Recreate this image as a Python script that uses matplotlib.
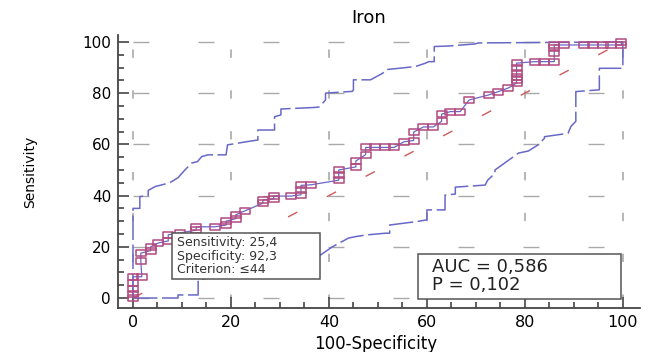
import numpy as np
import matplotlib
matplotlib.use("Agg")
import matplotlib.pyplot as plt
from matplotlib.path import Path
from matplotlib.patches import Rectangle

# ROC points (100-Specificity, Sensitivity)
roc_x = [0, 0, 0, 0, 0, 1.8, 1.6, 1.6, 3.6, 3.6, 5.2, 7.2, 7.2, 9.5, 12.9, 12.9,
         16.7, 19, 19, 21, 21, 22.8, 26.5, 26.5, 28.7, 28.7, 32.2, 34.3, 34.3,
         34.3, 36.3, 42, 42, 42, 45.5, 45.5, 47.5, 47.5, 49.5, 51.5, 53.3, 55.3,
         57.3, 57.3, 59.3, 61.3, 63, 63, 64.8, 66.8, 68.6, 72.6, 74.6, 76.6,
         78.3, 78.3, 78.3, 78.3, 78.3, 78.3, 82, 84, 86, 86, 86, 86, 88, 92, 94,
         96, 97.6, 99.7, 99.7]
roc_y = [0, 1.5, 3.5, 6, 8.3, 8.3, 14.5, 17.5, 18.5, 20, 21.5, 22.3, 24.7, 25.4,
         26.5, 27.8, 27.8, 28.5, 30, 31, 32.5, 34, 37, 38.3, 38.7, 39.8, 39.8,
         40.3, 42.2, 44, 44.2, 46, 48, 50, 51.2, 53.5, 56, 58.8, 58.8, 58.8,
         58.8, 61, 61.5, 64.8, 66.8, 66.8, 69, 71.8, 72.8, 72.8, 77.3, 79.3,
         80.6, 82, 83.9, 85.2, 86.4, 87.8, 89.7, 91.7, 92.3, 92.3, 92.3, 95.6,
         97.5, 98.8, 98.8, 98.8, 98.8, 98.8, 98.8, 98.8, 100]

# upper 95% confidence bound
upper_x = [0, 0, 1.4, 1.4, 3.1, 3.1, 4.5, 7.5, 9.2, 10.6, 12, 13.2, 14, 15.3, 19,
           19.3, 23.4, 25.5, 25.5, 28.9, 28.9, 30.2, 30.2, 37, 38, 39.3, 39.3,
           44.8, 45, 45, 48.5, 51, 51.7, 54.3, 57.7, 59.7, 60.4, 61.5, 61.5,
           64.4, 69.8, 70.5, 100]
upper_y = [0, 35, 35, 39.6, 40, 42, 43.5, 45, 47, 50, 52.7, 53.3, 55.2, 55.9,
           55.9, 59.8, 61.1, 61.7, 65.6, 65.6, 70.8, 71.5, 73.8, 74.4, 74.6,
           77.3, 80, 80.7, 81.3, 85.2, 85.2, 87.8, 89.2, 89.7, 90.4, 91.7, 92.3,
           92.3, 98.2, 98.4, 99.2, 99.6, 100]

# lower 95% confidence bound
lower_x = [0, 9.2, 9.2, 13.3, 13.3, 16, 20, 25, 30, 35, 38.3, 40.7, 44, 45.5,
           47.5, 51.5, 52.4, 52.4, 57.7, 60, 60, 63.7, 63.7, 65.8, 65.8, 71.9,
           72.4, 73.9, 73.9, 78.7, 80.7, 82.7, 84, 84, 88.8, 89.4, 90.4, 90.4,
           95.2, 95.2, 100, 100]
lower_y = [0, 0, 1.2, 1.2, 7, 8, 9, 11, 12.5, 14, 16.8, 20, 23.4, 24, 24.6,
           25.3, 25.3, 28.5, 29.8, 30.5, 34.4, 34.4, 40.2, 40.6, 43.3, 44.1, 46,
           48.7, 50, 56.6, 57.4, 59.8, 62.4, 63, 64.3, 67, 69, 80.6, 81.3, 89.7,
           89.7, 100]

diag = [0, 100]
ticks = [0, 20, 40, 60, 80, 100]

criterion_text = "Sensitivity: 25,4\nSpecificity: 92,3\nCriterion: \u226444"
auc_text = "AUC = 0,586\nP = 0,102"

blue = "#6868c8"
pink = "#b24a80"
red = "#cc5a5a"
grid_c = "#a9a9a9"

fig = plt.figure(figsize=(6.49, 3.52), dpi=100)
ax = fig.add_axes([118 / 649, 1 - 308 / 352, (640 - 118) / 649, (308 - 35) / 352])
ax.set_xlim(-3.06, 103.5)
ax.set_ylim(-3.9, 102.7)

# dashed grid between 0 and 100
ax.hlines(ticks, 0, 100, colors=grid_c, linewidth=1.0,
          linestyles=(0, (11.5, 35.3)), zorder=1)
ax.vlines(ticks, 0, 100, colors=grid_c, linewidth=1.2,
          linestyles=(2.9, (5.0, 19.5)), zorder=1)

# diagonal reference
ax.plot(diag, diag, color=red, linewidth=1.0, dashes=(7.5, 24), zorder=2)

# confidence bounds
ax.plot(upper_x, upper_y, color=blue, linewidth=1.1, dashes=(16, 3.0), zorder=3)
ax.plot(lower_x, lower_y, color=blue, linewidth=1.1, dashes=(16, 3.0), zorder=3)

# ROC curve with rectangular markers
rect = Path([(-1.45, -1), (1.45, -1), (1.45, 1), (-1.45, 1), (-1.45, -1)],
            [Path.MOVETO, Path.LINETO, Path.LINETO, Path.LINETO, Path.CLOSEPOLY])
ax.plot(roc_x, roc_y, color=blue, linewidth=0.9, marker=rect, markersize=6.6,
        markerfacecolor="none", markeredgecolor=pink, markeredgewidth=1.1,
        zorder=4)

# criterion box
ax.add_patch(Rectangle((7.9, 7.4), 30.3, 18.0, facecolor="white",
                       edgecolor="#555555", linewidth=1.1, zorder=5))
ax.text(9.0, 24.2, criterion_text, fontsize=9, color="#333333", va="top",
        ha="left", linespacing=1.05, zorder=6)

# AUC box
ax.add_patch(Rectangle((58.2, -0.3), 41.5, 17.3, facecolor="white",
                       edgecolor="#555555", linewidth=1.1, zorder=5))
ax.text(61.0, 15.8, auc_text, fontsize=13, color="#222222", va="top",
        ha="left", linespacing=1.0, zorder=6)

for s in ["top", "right"]:
    ax.spines[s].set_visible(False)
for s in ["left", "bottom"]:
    ax.spines[s].set_color("#444444")
    ax.spines[s].set_linewidth(1.3)

ax.set_xticks(ticks)
ax.set_yticks(ticks)
ax.set_xticks(np.arange(0, 101, 5), minor=True)
ax.set_yticks(np.arange(0, 101, 5), minor=True)
ax.tick_params(axis="both", which="both", direction="in", color="#444444")
ax.tick_params(axis="both", which="major", length=8, width=1.2)
ax.tick_params(axis="both", which="minor", length=4, width=1.2)
ax.tick_params(axis="x", which="major", labelsize=11.5, pad=5)
ax.tick_params(axis="y", which="major", labelsize=11, pad=5)

fig.text(369 / 649, 1 - 18 / 352, "Iron", fontsize=13, ha="center", va="center")
fig.text(376 / 649, 1 - 344 / 352, "100-Specificity", fontsize=12,
         ha="center", va="center")
fig.text(30 / 649, 1 - 172 / 352, "Sensitivity", fontsize=10, rotation=90,
         ha="center", va="center")

fig.savefig("out.png", dpi=100)
